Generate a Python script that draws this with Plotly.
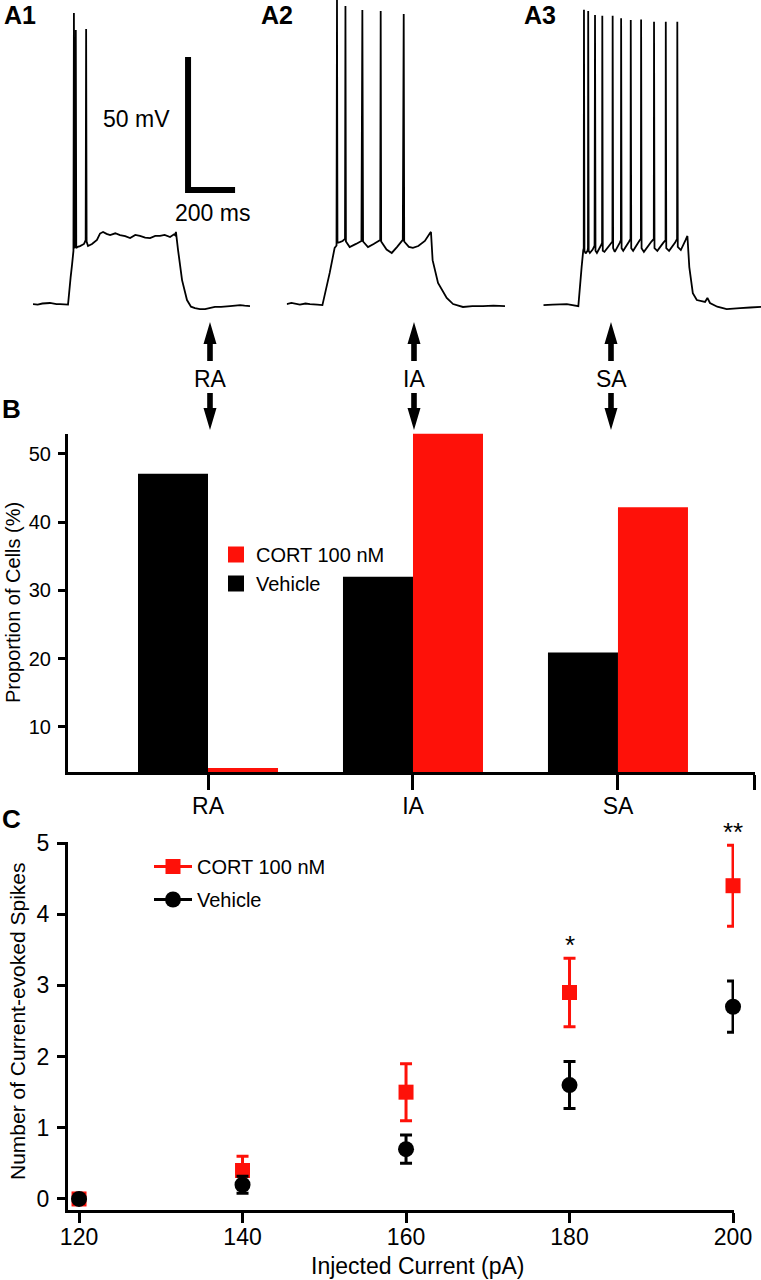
import plotly.graph_objects as go

W, H = 761, 1280
FONT = "Liberation Sans, Arial, Helvetica, sans-serif"
RED = "#fe1109"
BLACK = "#000000"


def fx(p):
    return p / W


def fy(p):
    return 1 - p / H


# ---------------- Panel A: example voltage traces (ms, mV) ----------------
a1_t = [0, 20, 40, 72, 100, 115, 149, 160, 166, 172, 174, 176, 181, 182, 184, 190, 200, 217, 224, 226,
        228, 234, 251, 272, 285, 298, 313, 328, 350, 370, 392, 413, 435, 455, 477, 498, 520, 540, 560, 583,
        600, 604, 608, 617, 634, 655, 672, 689, 710, 732, 750, 774, 800, 838, 860, 881, 900, 923]
a1_v = [-65.0, -65.2, -64.8, -64.6, -65.0, -65.0, -65.2, -55.0, -50.3, -45.0, 44.4, -44.0, -43.0, 38.0, -43.9,
        -43.5, -43.2, -42.4, -41.0, 38.4, -41.5, -43.2, -42.4, -40.9, -38.5, -37.9, -38.6, -39.1, -38.4, -39.1,
        -39.5, -40.2, -39.0, -39.4, -40.0, -40.2, -39.4, -39.4, -39.0, -39.8, -38.8, -39.1, -37.9, -44.7, -56.0,
        -63.5, -66.0, -66.5, -66.9, -66.9, -66.5, -66.1, -66.1, -65.8, -65.6, -65.4, -65.6, -65.8]

a2_t = [0, 20, 56, 80, 99, 130, 152, 183, 204, 212, 214, 216, 226, 238, 248, 250, 252, 268, 295, 318,
        322, 325, 346, 370, 398, 400, 402, 425, 447, 470, 494, 498, 500, 520, 537, 560, 588, 610, 614, 621,
        644, 681, 708, 750, 790, 835, 880, 929]
a2_v = [-65.0, -64.6, -65.2, -64.8, -65.0, -65.2, -65.4, -53.3, -43.9, -43.0, 49.3, -42.0, -41.7, -41.3, -40.5,
        47.0, -41.5, -43.6, -42.4, -41.3, 45.5, -41.5, -43.6, -42.4, -40.9, 45.2, -41.5, -44.5, -45.8, -43.5,
        -40.9, 44.0, -41.5, -43.5, -43.9, -43.2, -41.3, -38.3, -37.9, -48.5, -57.1, -62.7, -65.0, -66.1, -65.8,
        -65.8, -65.6, -65.8]

a3_t = [0, 40, 100, 149, 163, 170, 172, 173, 175, 180, 188, 190, 191, 193, 198, 210, 218, 220, 222, 228,
        245, 250, 251, 253, 260, 285, 294, 295, 297, 304, 325, 330, 331, 333, 340, 365, 371, 372, 374, 382,
        410, 415, 416, 418, 428, 460, 470, 471, 473, 485, 510, 520, 521, 523, 535, 560, 569, 570, 572, 585,
        605, 613, 621, 636, 653, 688, 698, 709, 740, 780, 837, 880, 926]
a3_v = [-65.4, -65.2, -65.0, -65.8, -51.1, -44.7, -44.0, 45.6, -45.0, -46.0, -45.0, -44.0, 45.2, -45.0, -45.8,
        -44.5, -43.0, 43.7, -45.0, -45.8, -43.0, -42.0, 43.4, -45.0, -45.4, -42.5, -41.5, 43.4, -44.0, -45.4,
        -42.0, -41.0, 42.4, -44.0, -45.0, -41.5, -40.5, 41.8, -44.0, -45.0, -41.0, -40.5, 42.0, -44.0, -45.4,
        -41.5, -40.5, 41.1, -44.0, -45.0, -42.0, -41.0, 41.1, -44.0, -45.0, -42.0, -40.5, 41.1, -43.5, -44.7,
        -41.0, -39.4, -51.1, -60.9, -63.5, -64.2, -62.7, -64.6, -66.0, -66.9, -66.5, -66.3, -66.1]

scale_ms = 200
scale_mv = 50
trace_labels = ["A1", "A2", "A3"]
firing_types = ["RA", "IA", "SA"]

# ---------------- Panel B: proportion of cells (%) ----------------
b_categories = ["RA", "IA", "SA"]
b_vehicle = [47.1, 32.0, 20.9]
b_cort = [4.0, 53.0, 42.2]

# ---------------- Panel C: current-evoked spikes ----------------
c_current = [120, 140, 160, 180, 200]
c_cort = [0.0, 0.4, 1.5, 2.9, 4.4]
c_cort_err = [0.0, 0.2, 0.4, 0.48, 0.57]
c_vehicle = [0.0, 0.2, 0.7, 1.6, 2.7]
c_vehicle_err = [0.0, 0.12, 0.2, 0.33, 0.36]
c_sig_current = [180, 200]
c_sig_text = ["*", "**"]

fig = go.Figure()

# Panel A traces
for t, v, ax in [(a1_t, a1_v, "x"), (a2_t, a2_v, "x2"), (a3_t, a3_v, "x3")]:
    fig.add_trace(go.Scatter(x=t, y=v, xaxis=ax, yaxis="y", mode="lines",
                             line=dict(color=BLACK, width=1.8, simplify=False), showlegend=False,
                             hoverinfo="skip", cliponaxis=False))

# scale bar (in A1 coordinates)
sb_x0, sb_y0 = 659.5, -22.1
fig.add_trace(go.Scatter(x=[sb_x0, sb_x0, sb_x0 + scale_ms],
                         y=[sb_y0 + scale_mv, sb_y0, sb_y0],
                         xaxis="x", yaxis="y", mode="lines",
                         line=dict(color=BLACK, width=6), showlegend=False,
                         hoverinfo="skip"))

# Panel B bars
cat_pos = list(range(len(b_categories)))
fig.add_trace(go.Bar(x=cat_pos, y=b_vehicle, xaxis="x4", yaxis="y4",
                     marker=dict(color=BLACK, line=dict(width=0)), name="Vehicle",
                     showlegend=False))
fig.add_trace(go.Bar(x=cat_pos, y=b_cort, xaxis="x4", yaxis="y4",
                     marker=dict(color=RED, line=dict(width=0)), name="CORT 100 nM",
                     showlegend=False))
# legend entries for B
fig.add_trace(go.Scatter(x=[None], y=[None], xaxis="x4", yaxis="y4", mode="markers",
                         marker=dict(symbol="square", size=19, color=RED),
                         name="CORT 100 nM", legend="legend", legendgroup="b1"))
fig.add_trace(go.Scatter(x=[None], y=[None], xaxis="x4", yaxis="y4", mode="markers",
                         marker=dict(symbol="square", size=19, color=BLACK),
                         name="Vehicle", legend="legend", legendgroup="b2"))

# Panel C points
fig.add_trace(go.Scatter(x=c_current, y=c_cort, xaxis="x5", yaxis="y5", mode="markers",
                         error_y=dict(type="data", array=c_cort_err, color=RED, thickness=3, width=6),
                         marker=dict(symbol="square", size=15, color=RED),
                         showlegend=False, cliponaxis=False))
fig.add_trace(go.Scatter(x=c_current, y=c_vehicle, xaxis="x5", yaxis="y5", mode="markers",
                         error_y=dict(type="data", array=c_vehicle_err, color=BLACK, thickness=3, width=6),
                         marker=dict(symbol="circle", size=16, color=BLACK),
                         showlegend=False, cliponaxis=False))
fig.add_trace(go.Scatter(x=[None], y=[None], xaxis="x5", yaxis="y5", mode="lines+markers",
                         line=dict(color=RED, width=3),
                         marker=dict(symbol="square", size=15, color=RED),
                         name="CORT 100 nM", legend="legend2", legendgroup="c1"))
fig.add_trace(go.Scatter(x=[None], y=[None], xaxis="x5", yaxis="y5", mode="lines+markers",
                         line=dict(color=BLACK, width=3),
                         marker=dict(symbol="circle", size=16, color=BLACK),
                         name="Vehicle", legend="legend2", legendgroup="c2"))

annotations = []
# panel labels
for txt, x0 in zip(trace_labels, [3, 260, 523]):
    annotations.append(dict(text="<b>%s</b>" % txt, x=fx(x0), y=1.0, xref="paper", yref="paper",
                            xanchor="left", yanchor="top", showarrow=False, borderpad=0,
                            font=dict(size=25, family=FONT)))
for txt, yc in [("B", 409), ("C", 819)]:
    annotations.append(dict(text="<b>%s</b>" % txt, x=fx(0), y=fy(yc), xref="paper", yref="paper",
                            xanchor="left", yanchor="middle", showarrow=False,
                            font=dict(size=26, family=FONT)))
# scale bar labels
annotations.append(dict(text="50 mV", x=fx(172), y=fy(119), xref="paper", yref="paper",
                        xanchor="right", yanchor="middle", showarrow=False, font=dict(size=23)))
annotations.append(dict(text="200 ms", x=fx(212.5), y=fy(213), xref="paper", yref="paper",
                        xanchor="center", yanchor="middle", showarrow=False, font=dict(size=23)))

# arrows + labels linking traces and bars
shapes = []
arrow_x = [210, 414, 611]
for lab, ax_ in zip(firing_types, arrow_x):
    annotations.append(dict(text=lab, x=fx(ax_), y=fy(379), xref="paper", yref="paper",
                            xanchor="center", yanchor="middle", showarrow=False, font=dict(size=23)))
    up = [(ax_, 322), (ax_ + 6.5, 344), (ax_ + 2.8, 344), (ax_ + 2.8, 361),
          (ax_ - 2.8, 361), (ax_ - 2.8, 344), (ax_ - 6.5, 344)]
    down = [(ax_ - 2.8, 393), (ax_ + 2.8, 393), (ax_ + 2.8, 408), (ax_ + 6.5, 408),
            (ax_, 430), (ax_ - 6.5, 408), (ax_ - 2.8, 408)]
    for poly in (up, down):
        path = "M" + " L".join("%.5f,%.5f" % (fx(px), fy(py)) for px, py in poly) + " Z"
        shapes.append(dict(type="path", path=path, xref="paper", yref="paper",
                           fillcolor=BLACK, line=dict(width=0)))

# axis titles
annotations.append(dict(text="Proportion of Cells (%)", x=fx(13), y=fy(603), xref="paper", yref="paper",
                        textangle=-90, xanchor="center", yanchor="middle", showarrow=False,
                        font=dict(size=20)))
annotations.append(dict(text="Number of Current-evoked Spikes", x=fx(17), y=fy(1022), xref="paper",
                        yref="paper", textangle=-90, xanchor="center", yanchor="middle",
                        showarrow=False, font=dict(size=21)))
annotations.append(dict(text="Injected Current (pA)", x=fx(417), y=fy(1266), xref="paper", yref="paper",
                        xanchor="center", yanchor="middle", showarrow=False, borderpad=0,
                        font=dict(size=23)))

# significance marks (anchored at the top of the CORT error bar)
for xs, txt in zip(c_sig_current, c_sig_text):
    i = c_current.index(xs)
    annotations.append(dict(text=txt, x=xs, y=c_cort[i] + c_cort_err[i], xref="x5", yref="y5",
                            xanchor="center", yanchor="middle", yshift=13, showarrow=False,
                            font=dict(size=26)))

axis_common = dict(showgrid=False, zeroline=False, showline=True, linecolor=BLACK, linewidth=3,
                   ticks="outside", tickcolor=BLACK, tickwidth=3, fixedrange=True, automargin=False)
hidden = dict(visible=False, fixedrange=True, automargin=False)

fig.update_layout(
    width=W, height=H, margin=dict(l=0, r=0, t=0, b=0, pad=0, autoexpand=False),
    paper_bgcolor="white", plot_bgcolor="white",
    font=dict(family=FONT, color=BLACK, size=20),
    barmode="group", bargap=0.317, bargroupgap=0,
    showlegend=True,
    legend=dict(x=fx(216), y=fy(535), xanchor="left", yanchor="top", font=dict(size=20),
                bgcolor="rgba(0,0,0,0)", tracegroupgap=0, itemsizing="trace"),
    legend2=dict(x=fx(149), y=fy(847), xanchor="left", yanchor="top", font=dict(size=20),
                 bgcolor="rgba(0,0,0,0)", tracegroupgap=4, itemsizing="trace", itemwidth=38),
    xaxis=dict(domain=[fx(33), fx(250)], range=[0, 923], anchor="y", **hidden),
    xaxis2=dict(domain=[fx(286.7), fx(505)], range=[0, 929], anchor="y", **hidden),
    xaxis3=dict(domain=[fx(543.3), 1.0], range=[0, 926], anchor="y", **hidden),
    yaxis=dict(domain=[fy(320), 1.0], range=[-71.0, 49.3], anchor="x", **hidden),
    xaxis4=dict(domain=[fx(68), fx(755)], range=[-0.683, 2.6685], anchor="y4",
                tickvals=cat_pos + [2.668], ticktext=b_categories + [""], ticklen=15,
                tickfont=dict(size=23), ticklabelstandoff=-4, **axis_common),
    yaxis4=dict(domain=[fy(772), fy(433.5)], range=[3.4, 53], anchor="x4",
                tickvals=[10, 20, 30, 40, 50], ticklen=7, tickfont=dict(size=20),
                ticklabelstandoff=3, **axis_common),
    xaxis5=dict(domain=[fx(68), fx(734)], range=[118.65, 200.12], anchor="y5",
                tickvals=c_current, ticklen=10, tickfont=dict(size=23), ticklabelstandoff=-6,
                **axis_common),
    yaxis5=dict(domain=[fy(1210), fy(842)], range=[-0.155, 5.014], anchor="x5",
                tickvals=[0, 1, 2, 3, 4, 5], ticklen=8, tickfont=dict(size=23),
                ticklabelstandoff=3, **axis_common),
    annotations=annotations,
    shapes=shapes,
)

fig.write_html("out.html",
               config={"displayModeBar": False, "staticPlot": False},
               post_script="document.body.style.margin='0px';document.body.style.overflow='hidden';")
